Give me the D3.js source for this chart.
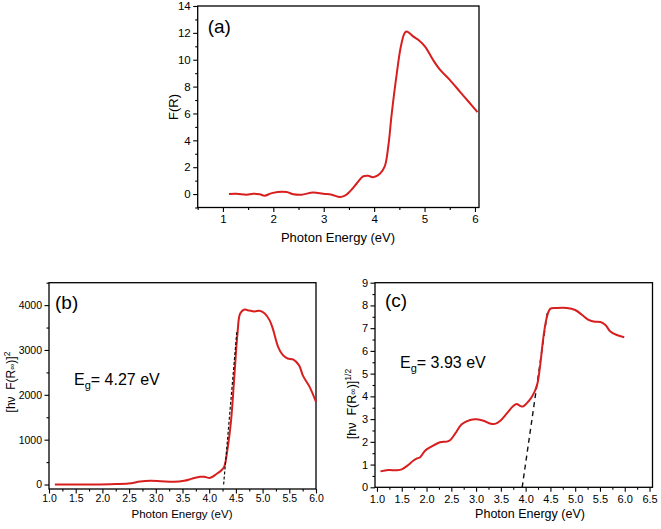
<!DOCTYPE html>
<html><head><meta charset="utf-8">
<script src="https://cdn.jsdelivr.net/npm/d3@7"></script>
<style>
body{margin:0;background:#fff}
svg{display:block;background:#fff}
text{font-family:"Liberation Sans",Arial,Helvetica,sans-serif;fill:#000}
</style>
</head><body>
<svg id="chart" width="661" height="529"></svg>
<script>
// ---------------- DATA ----------------
// Panel (a): F(R) vs photon energy
const energyA = [1.12,1.27,1.47,1.60,1.73,1.83,1.97,2.26,2.40,2.56,2.79,2.99,3.16,3.32,3.42,3.52,3.65,3.78,3.88,3.98,4.11,4.21,4.28,4.35,4.45,4.53,4.61,4.66,4.78,4.88,5.01,5.17,5.31,5.50,5.70,5.87,6.05];
const fA      = [0.00,0.02,-0.05,0.02,-0.02,-0.12,0.07,0.15,-0.02,-0.05,0.12,0.02,-0.05,-0.22,-0.12,0.20,0.77,1.31,1.36,1.26,1.50,2.06,3.54,6.02,9.00,10.98,12.02,12.09,11.72,11.47,10.98,9.98,9.24,8.50,7.63,6.89,6.10];

// Panel (b): [hv F(R)]^2
const energyB = [1.11,1.65,2.15,2.49,2.71,2.90,3.09,3.34,3.53,3.69,3.83,3.91,4.02,4.13,4.23,4.28,4.34,4.41,4.47,4.53,4.58,4.66,4.72,4.85,4.94,5.04,5.13,5.19,5.29,5.38,5.47,5.57,5.68,5.76,5.88,6.00];
const kmB     = [0,0,7,22,67,82,74,60,82,134,171,171,149,230,320,394,766,1435,2400,3368,3814,3903,3888,3859,3874,3814,3665,3480,3071,2885,2810,2788,2662,2416,2178,1844];
const fitB_x  = [4.27, 4.52];
const fitB_y  = [0, 3442];
const egB     = "= 4.27 eV";

// Panel (c): [hv F(R)]^(1/2)
const energyC = [1.07,1.23,1.40,1.50,1.63,1.73,1.82,1.87,1.97,2.10,2.27,2.41,2.48,2.58,2.71,2.88,3.01,3.15,3.28,3.38,3.49,3.62,3.75,3.82,3.89,3.94,4.02,4.13,4.23,4.29,4.36,4.43,4.50,4.63,4.83,5.00,5.14,5.27,5.37,5.51,5.61,5.71,5.84,5.99];
const kmC     = [0.70,0.76,0.75,0.79,0.98,1.17,1.28,1.32,1.61,1.79,1.98,2.01,2.08,2.37,2.77,2.96,2.99,2.93,2.81,2.79,2.93,3.25,3.58,3.66,3.58,3.55,3.69,3.99,4.50,5.31,6.63,7.50,7.86,7.89,7.89,7.80,7.58,7.36,7.29,7.27,7.14,6.85,6.70,6.60];
const fitC_x  = [3.93, 4.44];
const fitC_y  = [0, 7.72];
const egC     = "= 3.93 eV";

// Tick values
const ticksAx = [1,2,3,4,5,6];
const minorAx = [0.5,1.5,2.5,3.5,4.5,5.5];
const ticksAy = [0,2,4,6,8,10,12,14];
const minorAy = [-1,1,3,5,7,9,11,13];
const ticksBx = [1.0,1.5,2.0,2.5,3.0,3.5,4.0,4.5,5.0,5.5,6.0];
const minorBx = [1.25,1.75,2.25,2.75,3.25,3.75,4.25,4.75,5.25,5.75];
const ticksBy = [0,1000,2000,3000,4000];
const minorBy = [500,1500,2500,3500,4500];
const ticksCx = [1.0,1.5,2.0,2.5,3.0,3.5,4.0,4.5,5.0,5.5,6.0,6.5];
const minorCx = [1.25,1.75,2.25,2.75,3.25,3.75,4.25,4.75,5.25,5.75,6.25];
const ticksCy = [0,1,2,3,4,5,6,7,8,9];
const minorCy = [0.5,1.5,2.5,3.5,4.5,5.5,6.5,7.5,8.5];

// ---------------- DRAW ----------------
const svg = d3.select("#chart");
const RED = "#d81f1f";

function zip(a,b){ return a.map((v,i)=>[v,b[i]]); }

function panel(o){
  const g = svg.append("g");
  const x = d3.scaleLinear().domain(o.xDomain).range([o.left, o.right]);
  const y = d3.scaleLinear().domain(o.yDomain).range([o.bottom, o.top]);

  g.append("g").attr("transform",`translate(0,${o.bottom})`)
    .call(d3.axisBottom(x).tickValues(o.xMinor).tickSize(2.5).tickFormat(""))
    .call(s=>s.select(".domain").remove());
  g.append("g").attr("transform",`translate(${o.left},0)`)
    .call(d3.axisLeft(y).tickValues(o.yMinor).tickSize(2.5).tickFormat(""))
    .call(s=>s.select(".domain").remove());
  const ax = g.append("g").attr("transform",`translate(0,${o.bottom})`)
    .call(d3.axisBottom(x).tickValues(o.xTicks).tickSize(4.5).tickPadding(o.xPad).tickFormat(o.xFmt))
    .call(s=>s.select(".domain").remove());
  ax.selectAll("text").attr("font-size",o.tickFont).attr("font-family",null);
  const ay = g.append("g").attr("transform",`translate(${o.left},0)`)
    .call(d3.axisLeft(y).tickValues(o.yTicks).tickSize(4.5).tickPadding(2.5).tickFormat(o.yFmt))
    .call(s=>s.select(".domain").remove());
  ay.selectAll("text").attr("font-size",o.tickFont).attr("font-family",null);
  g.selectAll(".tick line").attr("stroke","#000").attr("stroke-width",1.1);

  g.append("rect").attr("x",o.left).attr("y",o.top)
    .attr("width",o.right-o.left).attr("height",o.bottom-o.top)
    .attr("fill","none").attr("stroke","#000").attr("stroke-width",1.3);

  const fitLine = (w)=>g.append("line")
      .attr("x1",x(o.fit[0][0])).attr("y1",y(o.fit[1][0]))
      .attr("x2",x(o.fit[0][1])).attr("y2",y(o.fit[1][1]))
      .attr("stroke","#111").attr("stroke-width",w).attr("stroke-dasharray",o.dash);
  if(o.fit && !o.fitOnTop) fitLine(1.4);
  g.append("path").datum(zip(o.xs,o.ys))
    .attr("fill","none").attr("stroke",RED).attr("stroke-width",2)
    .attr("stroke-linejoin","round")
    .attr("d",d3.line().x(d=>x(d[0])).y(d=>y(d[1])).curve(d3.curveCatmullRom.alpha(0.5)));
  if(o.fit && o.fitOnTop) fitLine(1.2);

  g.append("text").attr("x",o.left+o.letterDx).attr("y",o.top+o.letterDy)
    .attr("font-size",19).text(o.letter);

  g.append("text").attr("x",o.xTitleX).attr("y",o.xTitleY)
    .attr("text-anchor","middle").attr("font-size",o.titleFont).text("Photon Energy (eV)");
  return {g,x,y};
}

// Panel (a)
const pa = panel({
  left:197.7,right:479,top:6,bottom:207.5,
  xDomain:[0.5,6.08], yDomain:[-1,14],
  xTicks:ticksAx,xMinor:minorAx,yTicks:ticksAy,yMinor:minorAy,
  xFmt:d3.format("d"), yFmt:d3.format("d"), xPad:3, tickFont:11.5,
  xs:energyA, ys:fA, letter:"(a)", letterDx:10, letterDy:27,
  xTitleX:338, xTitleY:242, titleFont:13
});
pa.g.append("text").attr("transform","translate(178,107) rotate(-90)")
  .attr("text-anchor","middle").attr("font-size",13).text("F(R)");

// Panel (b)
const pb = panel({
  left:49,right:316,top:282.7,bottom:489,
  xDomain:[1.0,6.0], yDomain:[-100,4500],
  xTicks:ticksBx,xMinor:minorBx,yTicks:ticksBy,yMinor:minorBy,
  xFmt:d3.format(".1f"), yFmt:d3.format("d"), xPad:1.5, tickFont:10.5,
  xs:energyB, ys:kmB, fit:[fitB_x,fitB_y], dash:"3,2", fitOnTop:true,
  letter:"(b)", letterDx:6, letterDy:26,
  xTitleX:182, xTitleY:518, titleFont:11.5
});
{
  const t = pb.g.append("text").attr("x",74).attr("y",385).attr("font-size",16);
  t.append("tspan").text("E");
  t.append("tspan").attr("font-size",11).attr("dy",4).text("g");
  t.append("tspan").attr("dy",-4).text(egB);
  const yl = pb.g.append("text").attr("transform","translate(15,382) rotate(-90)")
    .attr("text-anchor","middle").attr("font-size",12);
  yl.append("tspan").text("[h\u03BD\u00A0\u00A0F(R");
  yl.append("tspan").attr("font-size",8.5).text("\u221E");
  yl.append("tspan").text(")]");
  yl.append("tspan").attr("font-size",8.5).attr("dy",-5).text("2");
}

// Panel (c)
const pc = panel({
  left:375,right:652.5,top:282.7,bottom:487.3,
  xDomain:[0.96,6.56], yDomain:[0,9],
  xTicks:ticksCx,xMinor:minorCx,yTicks:ticksCy,yMinor:minorCy,
  xFmt:d3.format(".1f"), yFmt:d3.format("d"), xPad:3, tickFont:11,
  xs:energyC, ys:kmC, fit:[fitC_x,fitC_y], dash:"5,4", fitOnTop:false,
  letter:"(c)", letterDx:10, letterDy:24,
  xTitleX:530, xTitleY:518, titleFont:12.5
});
{
  const t = pc.g.append("text").attr("x",400).attr("y",368).attr("font-size",16);
  t.append("tspan").text("E");
  t.append("tspan").attr("font-size",11).attr("dy",4).text("g");
  t.append("tspan").attr("dy",-4).text(egC);
  const yl = pc.g.append("text").attr("transform","translate(356,404) rotate(-90)")
    .attr("text-anchor","middle").attr("font-size",12.5);
  yl.append("tspan").text("[h\u03BD\u00A0\u00A0F(R");
  yl.append("tspan").attr("font-size",9).text("\u221E");
  yl.append("tspan").text(")]");
  yl.append("tspan").attr("font-size",8.5).attr("dy",-5).text("1/2");
}
</script>
</body></html>
